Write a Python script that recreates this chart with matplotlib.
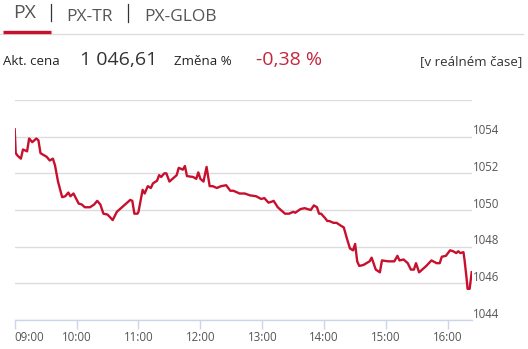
import matplotlib
matplotlib.use("Agg")
import matplotlib.pyplot as plt
from matplotlib.lines import Line2D
from matplotlib.transforms import ScaledTranslation

# ---- data (minutes after 09:00, index value) ----
minutes = [0, 1, 3, 6, 8, 12, 14, 17, 21, 23, 25, 28, 31, 34, 37, 39, 42, 46, 49, 52,
           54, 57, 62, 65, 68, 73, 77, 80, 83, 86, 90, 95, 99, 103, 107, 112, 114, 116,
           119, 120, 124, 126, 129, 132, 134, 138, 140, 142, 145, 147, 150, 154, 157,
           159, 163, 165, 167, 173, 176, 178, 180, 183, 186, 189, 192, 196, 200, 205,
           209, 212, 218, 223, 228, 234, 239, 242, 246, 249, 251, 255, 260, 262, 266,
           270, 272, 277, 281, 287, 290, 293, 295, 297, 301, 303, 305, 309, 312, 316,
           319, 322, 325, 328, 330, 332, 334, 338, 341, 344, 346, 350, 354, 356, 362,
           368, 371, 373, 377, 381, 384, 387, 389, 392, 396, 399, 404, 409, 412, 414,
           418, 422, 425, 428, 430, 432, 435, 436, 438, 439, 441, 443]
values = [1054.4, 1053.1, 1052.95, 1052.8, 1053.3, 1053.2, 1053.9, 1053.7, 1053.9, 1053.8,
          1053.1, 1053.0, 1052.9, 1052.7, 1052.8, 1052.45, 1051.55, 1050.7, 1050.75, 1050.95,
          1050.75, 1050.9, 1050.35, 1050.3, 1050.15, 1050.15, 1050.3, 1050.5, 1050.3, 1049.8,
          1049.75, 1049.45, 1049.9, 1050.1, 1050.3, 1050.55, 1050.5, 1049.8, 1049.8, 1049.9,
          1051.1, 1050.9, 1051.3, 1051.2, 1051.45, 1051.6, 1051.9, 1051.8, 1052.0, 1052.0,
          1051.55, 1051.75, 1051.9, 1052.3, 1052.2, 1052.4, 1051.85, 1051.8, 1051.7, 1052.05,
          1051.7, 1051.55, 1052.35, 1051.3, 1051.3, 1051.2, 1051.3, 1051.35, 1051.05, 1051.05,
          1050.9, 1050.9, 1050.8, 1050.75, 1050.6, 1050.65, 1050.4, 1050.45, 1050.5, 1050.15,
          1049.9, 1049.8, 1049.8, 1049.9, 1049.85, 1050.05, 1050.1, 1050.0, 1050.25, 1050.15,
          1049.8, 1049.8, 1049.55, 1049.4, 1049.4, 1049.3, 1049.3, 1049.15, 1049.05, 1048.45,
          1047.9, 1047.8, 1048.15, 1047.2, 1046.95, 1047.0, 1047.1, 1047.2, 1047.4, 1046.75,
          1046.6, 1047.25, 1047.2, 1047.2, 1047.5, 1047.25, 1047.3, 1047.1, 1046.75, 1046.75,
          1047.1, 1046.6, 1046.8, 1046.95, 1047.25, 1047.1, 1047.1, 1047.45, 1047.5, 1047.8,
          1047.75, 1047.65, 1047.75, 1047.65, 1047.7, 1047.3, 1046.3, 1045.7, 1045.7, 1046.61]

x_tick_labels = ["09:00", "10:00", "11:00", "12:00", "13:00", "14:00", "15:00", "16:00"]
y_ticks = [1044, 1046, 1048, 1050, 1052, 1054, 1056]
y_tick_labels = ["1044", "1046", "1048", "1050", "1052", "1054", ""]

tabs = ["PX", "PX-TR", "PX-GLOB"]
price_label = "Akt. cena"
price_value = "1 046,61"
change_label = "Změna %"
change_value = "-0,38 %"
realtime_label = "[v reálném čase]"

# ---- figure ----
W, H = 528, 349
fig = plt.figure(figsize=(W / 100, H / 100), dpi=100)
plt.rcParams['font.family'] = ['Open Sans', 'DejaVu Sans']

def fx(x):
    return x / W

def fy(y):
    return 1 - y / H

RED = '#c8102e'

# header tabs
fig.text(fx(13), fy(18.5), tabs[0], fontsize=14, color='#555555', va='baseline', ha='left')
fig.text(fx(66), fy(20.7), tabs[1], fontsize=12.5, color='#555555', va='baseline', ha='left')
fig.text(fx(144), fy(20.7), tabs[2], fontsize=12.5, color='#555555', va='baseline', ha='left')
fig.add_artist(Line2D([fx(50.5), fx(50.5)], [fy(3.5), fy(20.5)], transform=fig.transFigure,
                      color='#333333', lw=0.9))
fig.add_artist(Line2D([fx(128), fx(128)], [fy(3.5), fy(21.5)], transform=fig.transFigure,
                      color='#333333', lw=0.9))
fig.add_artist(Line2D([0, fx(523)], [fy(34.3), fy(34.3)], transform=fig.transFigure,
                      color='#dddddd', lw=1.0))
fig.add_artist(Line2D([fx(3.3), fx(50.7)], [fy(32.3), fy(32.3)], transform=fig.transFigure,
                      color=RED, lw=2.4, solid_capstyle='butt'))

# info row
fig.text(fx(3), fy(65), price_label, fontsize=9.5, color='#222222', va='baseline', ha='left')
fig.text(fx(80), fy(65), price_value, fontsize=14, color='#333333', va='baseline', ha='left')
fig.text(fx(174), fy(65), change_label, fontsize=9.5, color='#222222', va='baseline', ha='left')
fig.text(fx(256), fy(65), change_value, fontsize=14, color='#c4263d', va='baseline', ha='left')
fig.text(fx(522.5), fy(65), realtime_label, fontsize=9.5, color='#333333', va='baseline', ha='right')

# chart
left_px, right_px, top_px, bottom_px = 14.7, 471.7, 100.0, 320.0
ax = fig.add_axes([fx(left_px), fy(bottom_px), (right_px - left_px) / W, (bottom_px - top_px) / H])
ax.plot(minutes, values, color=RED, lw=1.7, solid_joinstyle='round')
ax.set_xlim(0, 443)
ax.set_ylim(1044, 1056)

for s in ['top', 'right', 'left']:
    ax.spines[s].set_visible(False)
ax.spines['bottom'].set_color('#ccd6eb')
ax.spines['bottom'].set_linewidth(1.0)

ax.set_yticks(y_ticks)
ax.set_yticklabels([])
ax.tick_params(axis='y', length=0)
ax.grid(axis='y', color='#dcdcdc', lw=1.0)
ax.set_axisbelow(True)

off = ScaledTranslation(1.5 / 100, 2.5 / 100, fig.dpi_scale_trans)
for v, lab in zip(y_ticks, y_tick_labels):
    if lab:
        ax.text(1.0, v, lab, transform=ax.get_yaxis_transform() + off, fontsize=8.3,
                color='#555555', ha='left', va='baseline')

ax.set_xticks([i * 60 for i in range(len(x_tick_labels))])
ax.set_xticklabels(x_tick_labels)
ax.tick_params(axis='x', length=6.5, width=1.0, color='#ccd6eb', labelsize=8.3,
               labelcolor='#555555', pad=1.5)
ax.get_xticklabels()[0].set_ha('left')

fig.savefig('out.png', dpi=100)
